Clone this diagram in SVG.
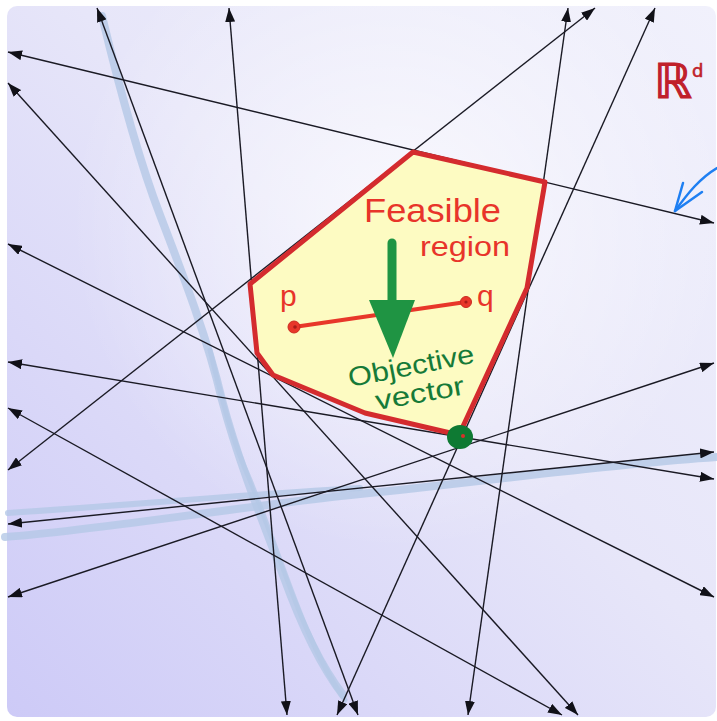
<svg xmlns="http://www.w3.org/2000/svg" width="717" height="721" viewBox="0 0 717 721">
  <defs>
    <linearGradient id="bg" x1="1" y1="0" x2="0" y2="1">
      <stop offset="0" stop-color="#f1f1fc"/>
      <stop offset="0.45" stop-color="#e7e6f9"/>
      <stop offset="1" stop-color="#cdcaf7"/>
    </linearGradient>
    <radialGradient id="glow" cx="400" cy="220" r="330" gradientUnits="userSpaceOnUse">
      <stop offset="0" stop-color="#ffffff" stop-opacity="0.7"/>
      <stop offset="1" stop-color="#ffffff" stop-opacity="0"/>
    </radialGradient>
    <marker id="ah" viewBox="0 0 14 10" refX="14" refY="5" markerWidth="14" markerHeight="10" markerUnits="userSpaceOnUse" orient="auto-start-reverse">
      <path d="M0,0 L14,5 L0,10 z" fill="#111118"/>
    </marker>
    <style>
      .ln { stroke: #1a1a24; stroke-width: 1.4; fill: none; marker-start: url(#ah); marker-end: url(#ah); }
      .hl { fill: none; stroke: #b4c8e6; stroke-linecap: round; stroke-linejoin: round; opacity: 0.8; }
      .hand { font-family: "Liberation Sans", Arial, sans-serif; }
    </style>
  </defs>

  <rect x="0" y="0" width="717" height="721" fill="#ffffff"/>
  <rect x="7" y="6" width="709" height="711" rx="10" fill="url(#bg)"/>
  <rect x="7" y="6" width="709" height="711" rx="10" fill="url(#glow)"/>

  <g id="highlights">
    <path class="hl" stroke-width="8" d="M102,16 C115,70 135,150 160,215 C185,280 208,340 222,400 C238,460 262,520 283,575 C300,622 320,665 343,695"/>
    <path class="hl" stroke-width="5" d="M210,350 C222,400 232,440 250,480 C270,530 290,590 305,625 C318,655 330,680 345,700"/>
    <path class="hl" stroke-width="8" d="M5,537 C100,530 250,505 360,494 C480,482 600,465 717,457"/>
    <path class="hl" stroke-width="6" d="M8,513 C120,506 250,494 360,488"/>
  </g>

  <g id="lines">
    <line class="ln" x1="8" y1="52" x2="714" y2="223"/>
    <line class="ln" x1="97" y1="8" x2="358" y2="715"/>
    <line class="ln" x1="229" y1="8" x2="287" y2="715"/>
    <line class="ln" x1="8" y1="244" x2="714" y2="597"/>
    <line class="ln" x1="8" y1="83" x2="578" y2="715"/>
    <line class="ln" x1="8" y1="408" x2="562" y2="715"/>
    <line class="ln" x1="8" y1="362" x2="714" y2="479"/>
    <line class="ln" x1="8" y1="470" x2="595" y2="8"/>
    <line class="ln" x1="568" y1="8" x2="468" y2="715"/>
    <line class="ln" x1="655" y1="8" x2="337" y2="715"/>
    <line class="ln" x1="8" y1="524" x2="714" y2="452"/>
    <line class="ln" x1="8" y1="597" x2="714" y2="363"/>
  </g>

  <g id="feasible-region">
    <polygon points="413,152 545,182 527,288 459,435 365,413 273,375 257,353 250,284" fill="#fdfbc2" stroke="#d42b2e" stroke-width="5" stroke-linejoin="round"/>
    <text class="hand" x="364" y="222" font-size="33" fill="#e8342a" textLength="137" lengthAdjust="spacingAndGlyphs">Feasible</text>
    <text class="hand" x="420" y="256" font-size="27" fill="#e8342a" textLength="90" lengthAdjust="spacingAndGlyphs">region</text>
  </g>

  <g id="segment-pq">
    <line x1="294" y1="327" x2="466" y2="302" stroke="#e8372a" stroke-width="4" stroke-linecap="round"/>
    <circle cx="294" cy="327" r="6" fill="#e8372a" stroke="#cc2a20" stroke-width="1"/>
    <circle cx="466" cy="302" r="5.5" fill="#e8372a" stroke="#cc2a20" stroke-width="1"/>
    <circle cx="295" cy="327" r="1.8" fill="#a81c18"/>
    <circle cx="466" cy="302" r="1.6" fill="#a81c18"/>
    <text class="hand" x="280" y="306" font-size="30" fill="#e8342a">p</text>
    <text class="hand" x="477" y="306" font-size="30" fill="#e8342a">q</text>
  </g>

  <g id="objective-vector">
    <line x1="392" y1="243" x2="392" y2="304" stroke="#1f9443" stroke-width="9" stroke-linecap="round"/>
    <polygon points="369,300 415,300 393,358" fill="#1f9443"/>
    <text class="hand" x="350" y="387" font-size="27" fill="#167a38" transform="rotate(-11 350 387)" textLength="128" lengthAdjust="spacingAndGlyphs">Objective</text>
    <text class="hand" x="377" y="410" font-size="27" fill="#167a38" transform="rotate(-10 377 410)" textLength="90" lengthAdjust="spacingAndGlyphs">vector</text>
  </g>

  <g id="optimum">
    <ellipse cx="460" cy="437" rx="13" ry="12" fill="#0e7a33"/>
    <circle cx="463" cy="436" r="2" fill="#d8302a"/>
  </g>

  <g id="space-label">
    <text x="654" y="98" font-family="DejaVu Sans, sans-serif" font-size="48" fill="#c0202a" stroke="#c0202a" stroke-width="1.2">ℝ<tspan font-size="18" dy="-21" stroke-width="0.6">d</tspan></text>
  </g>

  <g id="pointer">
    <path d="M717,168 C700,178 688,193 675,211" fill="none" stroke="#1e7ff2" stroke-width="2.5" stroke-linecap="round"/>
    <path d="M683,183 L675,211 L702,192" fill="none" stroke="#1e7ff2" stroke-width="2.5" stroke-linecap="round" stroke-linejoin="round"/>
  </g>
</svg>
